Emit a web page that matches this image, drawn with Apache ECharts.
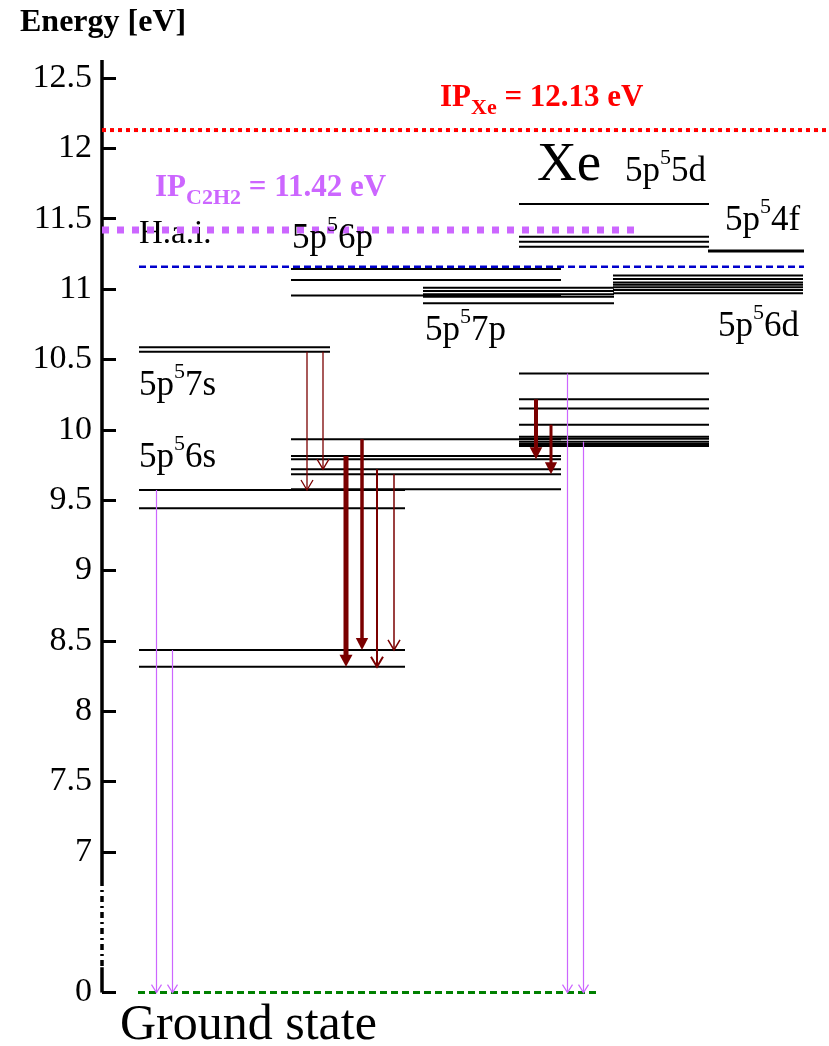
<!DOCTYPE html>
<html>
<head>
<meta charset="utf-8">
<script src="https://cdn.jsdelivr.net/npm/echarts@6/dist/echarts.min.js"></script>
<style>
  html, body { margin: 0; padding: 0; background: #fff; }
  #chart { width: 829px; height: 1046px; }
</style>
</head>
<body>
<div id="chart"></div>
<script>
// Xe level energies (eV) per configuration
const levels7s = [10.586, 10.555];
const levels6s = [9.572, 9.442, 8.435, 8.316];
const levels6p = [11.143, 11.064, 10.955, 9.932, 9.813, 9.790, 9.720, 9.683, 9.577];
const levels7p = [11.010, 10.987, 10.963, 10.946, 10.900];
const levels5d = [11.605, 11.372, 11.337, 11.300, 10.400, 10.216, 10.152, 10.036, 9.951, 9.937, 9.915, 9.899, 9.885];
const levels6d = [11.096, 11.072, 11.046, 11.030, 11.013, 10.994, 10.970];
const levels4f = [11.27];
const groundEnergy = 0;

const ipXe = 12.13;
const ipC2H2 = 11.42;
const haiEnergy = 11.159;

// observed transitions, upper -> lower
const emitFrom = [10.555, 10.555, 9.813, 9.932, 9.720, 9.683, 10.216, 10.036];
const emitTo = [9.572, 9.720, 8.316, 8.435, 8.316, 8.435, 9.790, 9.683];
// resonance lines down to the ground state
const resFrom = [9.572, 8.435, 10.400, 9.915];

const yTicks = [0, 7, 7.5, 8, 8.5, 9, 9.5, 10, 10.5, 11, 11.5, 12, 12.5];

// ---- layout ----
const BREAK = 6.0;            // where 0 eV sits on the broken axis
const disp = e => (e === 0 ? BREAK : e);
const serif = "'Liberation Serif', 'Times New Roman', serif";

const columns = [
  { lv: levels7s, x: [139, 330] },
  { lv: levels6s, x: [139, 405] },
  { lv: levels6p, x: [291, 561] },
  { lv: levels7p, x: [423, 614] },
  { lv: levels5d, x: [519, 709] },
  { lv: levels6d, x: [613, 803] },
  { lv: levels4f, x: [708, 804], w: 3 }
];
const emitX = [307, 323, 346, 362, 377, 394, 536, 551];
const emitW = [1.3, 1.3, 5, 3.5, 2, 1.5, 4, 3];
const emitHead = ['open', 'open', 'fill', 'fill', 'open', 'open', 'fill', 'fill'];
const resX = [156, 172, 567, 583];

const levelData = [];
columns.forEach(c => c.lv.forEach(e => levelData.push([c.x[0], c.x[1], e, c.w || 2])));

const refLines = [
  // x1, x2, energy, width, color, dash
  [102, 829, ipXe, 4, '#ff0000', [4, 4]],
  [102, 640, ipC2H2, 7, '#cc66ff', [7, 8]],
  [139, 804, haiEnergy, 2.5, '#0000cc', [7, 4]],
  [138, 598, disp(groundEnergy), 3, '#008000', [7, 4]]
];

const arrowData = [];
emitFrom.forEach((e, i) => arrowData.push([emitX[i], e, emitTo[i], emitW[i], emitHead[i], '#7a0000']));
resFrom.forEach((e, i) => arrowData.push([resX[i] + 0.5, e, disp(groundEnergy), 1.2, 'thin', '#cc66ff']));

const axisSegs = [
  [12.628, 6.80, 0],
  [6.80, 6.18, 1],
  [6.18, BREAK, 0]
];

const chart = echarts.init(document.getElementById('chart'));

function renderLevel(params, api) {
  const a = api.coord([api.value(0), api.value(2)]);
  const b = api.coord([api.value(1), api.value(2)]);
  return {
    type: 'line',
    shape: { x1: a[0], y1: a[1], x2: b[0], y2: b[1] },
    style: { stroke: '#000', lineWidth: api.value(3) }
  };
}

function renderRef(params, api) {
  const d = refLines[params.dataIndex];
  const a = api.coord([d[0], d[2]]);
  const b = api.coord([d[1], d[2]]);
  return {
    type: 'line',
    shape: { x1: a[0], y1: a[1], x2: b[0], y2: b[1] },
    style: { stroke: d[4], lineWidth: d[3], lineDash: d[5] }
  };
}

function renderArrow(params, api) {
  const d = arrowData[params.dataIndex];
  const p1 = api.coord([d[0], d[1]]);
  const p2 = api.coord([d[0], d[2]]);
  const w = d[3], kind = d[4], col = d[5];
  const children = [];
  if (kind === 'fill') {
    const len = 12, hw = 5.5 + w * 0.2;
    children.push({ type: 'line', shape: { x1: p1[0], y1: p1[1], x2: p2[0], y2: p2[1] - len + 1 },
      style: { stroke: col, lineWidth: w } });
    children.push({ type: 'polygon', shape: { points: [[p2[0] - hw, p2[1] - len], [p2[0] + hw, p2[1] - len], [p2[0], p2[1]]] },
      style: { fill: col } });
  } else {
    const len = kind === 'thin' ? 8 : 10, hw = kind === 'thin' ? 5 : 6;
    children.push({ type: 'line', shape: { x1: p1[0], y1: p1[1], x2: p2[0], y2: p2[1] },
      style: { stroke: col, lineWidth: w } });
    children.push({ type: 'polyline', shape: { points: [[p2[0] - hw, p2[1] - len], [p2[0], p2[1]], [p2[0] + hw, p2[1] - len]] },
      style: { stroke: col, lineWidth: w, fill: null } });
  }
  return { type: 'group', children };
}

function renderAxis(params, api) {
  const d = axisSegs[params.dataIndex];
  const a = api.coord([102, d[0]]);
  const b = api.coord([102, d[1]]);
  return {
    type: 'line',
    shape: { x1: a[0], y1: a[1], x2: b[0], y2: b[1] },
    style: { stroke: '#000', lineWidth: 3.5, lineDash: d[2] ? [6, 4, 2, 4] : null }
  };
}

const supRich = {
  m: { fontSize: 35, lineHeight: 34, fontFamily: serif },
  s: { fontSize: 22, lineHeight: 10, height: 8, fontFamily: serif, verticalAlign: 'top' }
};
const subRich = {
  m: { fontSize: 31, lineHeight: 30, fontFamily: serif, fontWeight: 'bold' },
  s: { fontSize: 22, lineHeight: 10, height: 10, fontFamily: serif, fontWeight: 'bold', verticalAlign: 'bottom' }
};
function conf(x, y, a, b, c) {
  return { type: 'text', x, y, z: 10, style: { text: `{m|${a}}{s|${b}}{m|${c}}`, rich: supRich, fill: '#000', verticalAlign: 'top' } };
}

chart.setOption({
  animation: false,
  grid: { left: 102, right: 0, top: 60, bottom: 46.4, containLabel: false },
  xAxis: { type: 'value', min: 102, max: 829, show: false },
  yAxis: {
    type: 'value',
    min: 5.95,
    max: 12.628,
    axisLine: { show: false },
    splitLine: { show: false },
    axisTick: { show: true, inside: true, length: 14, customValues: yTicks.map(disp), lineStyle: { width: 3, color: '#000' } },
    axisLabel: {
      customValues: yTicks.map(disp),
      formatter: v => (v === BREAK ? '0' : String(v)),
      fontSize: 34, fontFamily: serif, color: '#000', margin: 10
    }
  },
  series: [
    { type: 'custom', renderItem: renderAxis, data: axisSegs.map((s, i) => [102, s[0], i]), silent: true, clip: false },
    { type: 'custom', renderItem: renderRef, data: refLines.map(r => [r[0], r[2]]), silent: true, z: 3 },
    { type: 'custom', renderItem: renderLevel, data: levelData, silent: true, z: 2 },
    { type: 'custom', renderItem: renderArrow, data: arrowData.map(a => [a[0], a[1]]), silent: true, z: 4 }
  ],
  graphic: [
    { type: 'text', x: 20, y: 7, style: { text: 'Energy [eV]', font: `bold 32px ${serif}`, fill: '#000', verticalAlign: 'top' } },
    { type: 'text', x: 440, y: 83, style: { text: '{m|IP}{s|Xe}{m| = 12.13 eV}', rich: subRich, fill: '#ff0000', verticalAlign: 'top' } },
    { type: 'text', x: 155, y: 173, style: { text: '{m|IP}{s|C2H2}{m| = 11.42 eV}', rich: subRich, fill: '#cc66ff', verticalAlign: 'top' } },
    { type: 'text', x: 537, y: 138, style: { text: 'Xe', font: `55px ${serif}`, fill: '#000', verticalAlign: 'top' } },
    { type: 'text', x: 139, y: 218, style: { text: 'H.a.i.', font: `33px ${serif}`, fill: '#000', verticalAlign: 'top' } },
    conf(625, 154.5, '5p', '5', '5d'),
    conf(725, 203.5, '5p', '5', '4f'),
    conf(292, 221.5, '5p', '5', '6p'),
    conf(425, 313.5, '5p', '5', '7p'),
    conf(718, 309.5, '5p', '5', '6d'),
    conf(139, 368.5, '5p', '5', '7s'),
    conf(139, 440.5, '5p', '5', '6s'),
    { type: 'text', x: 120, y: 1001, style: { text: 'Ground state', font: `50px ${serif}`, fill: '#000', verticalAlign: 'top' } }
  ]
});
</script>
</body>
</html>
